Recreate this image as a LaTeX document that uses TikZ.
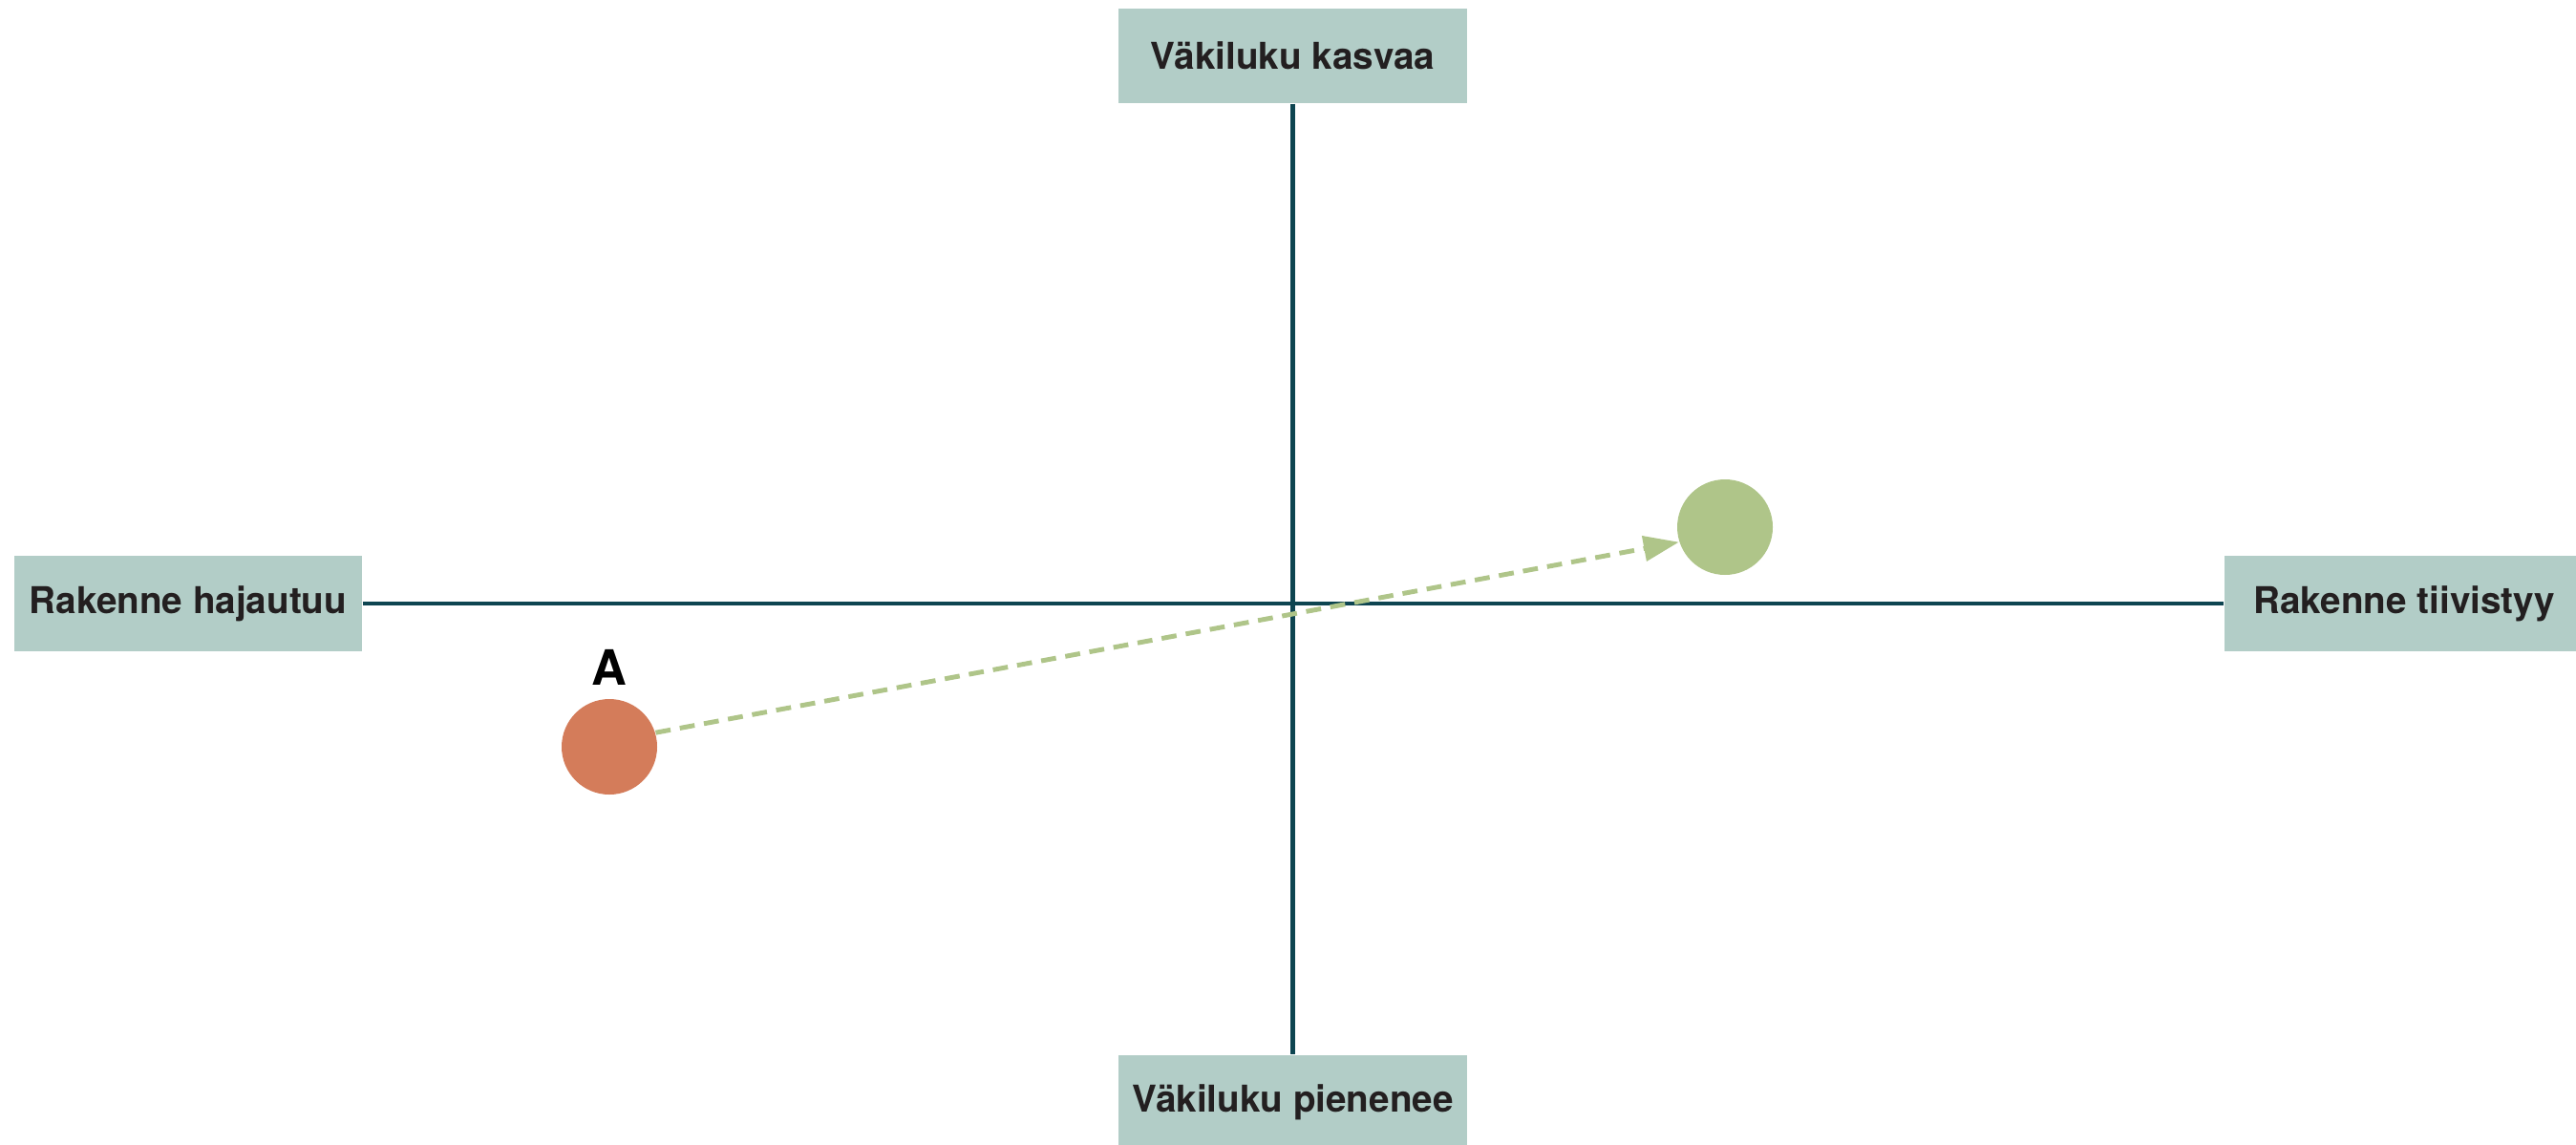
\documentclass[tikz,border=0pt]{standalone}
\usepackage{fontspec}
\setmainfont{TeX Gyre Heros}
\usetikzlibrary{positioning,arrows.meta}
\definecolor{boxfill}{HTML}{B2CDC7}
\definecolor{axisline}{HTML}{0E4551}
\definecolor{movegreen}{HTML}{AFC589}
\definecolor{startred}{HTML}{D47C5A}
\definecolor{labeltext}{HTML}{231F20}
\begin{document}
\begin{tikzpicture}[x=1cm,y=-1cm,
  endbox/.style={fill=boxfill, text=labeltext, minimum height=0.99cm, inner sep=0pt,
    font=\bfseries\fontsize{11}{13}\selectfont},
  axis/.style={line width=1.4pt, color=axisline},
  spot/.style={circle, minimum size=1cm, inner sep=0pt},
  moveline/.style={line width=1.4pt, color=movegreen, dash pattern=on 4.5pt off 2.8pt,
    -{Triangle[length=3.7mm,width=2.6mm]}}]
  \useasboundingbox (0,0) rectangle (26.97,11.98);

  % ends of the axes
  \node [endbox, minimum width=3.65cm] (grow) at (13.535,0.585) {Väkiluku kasvaa};
  \node [endbox, minimum width=3.65cm] (shrink) at (13.535,11.545) {Väkiluku pienenee};
  \node [endbox, minimum width=3.64cm, minimum height=1cm] (spread) at (1.97,6.32) {Rakenne hajautuu};
  \node [endbox, minimum width=3.76cm, minimum height=1cm] (dense) at (25.17,6.32) {Rakenne tiivistyy};

  \draw [axis] (spread.east) -- (dense.west);
  \draw [axis] (grow.south) -- (shrink.north);

  % area A and where it goes
  \node [spot, fill=startred] (areaA) at (6.38,7.82) {};
  \node [spot, fill=movegreen] (areaAnew) at (18.06,5.52) {};
  \node [above=0.13cm of areaA, inner sep=0pt, font=\bfseries\fontsize{14.5}{16}\selectfont] (labelA) {A};

  \draw [moveline] (areaA.17) -- (areaAnew.198);

\end{tikzpicture}
\end{document}
